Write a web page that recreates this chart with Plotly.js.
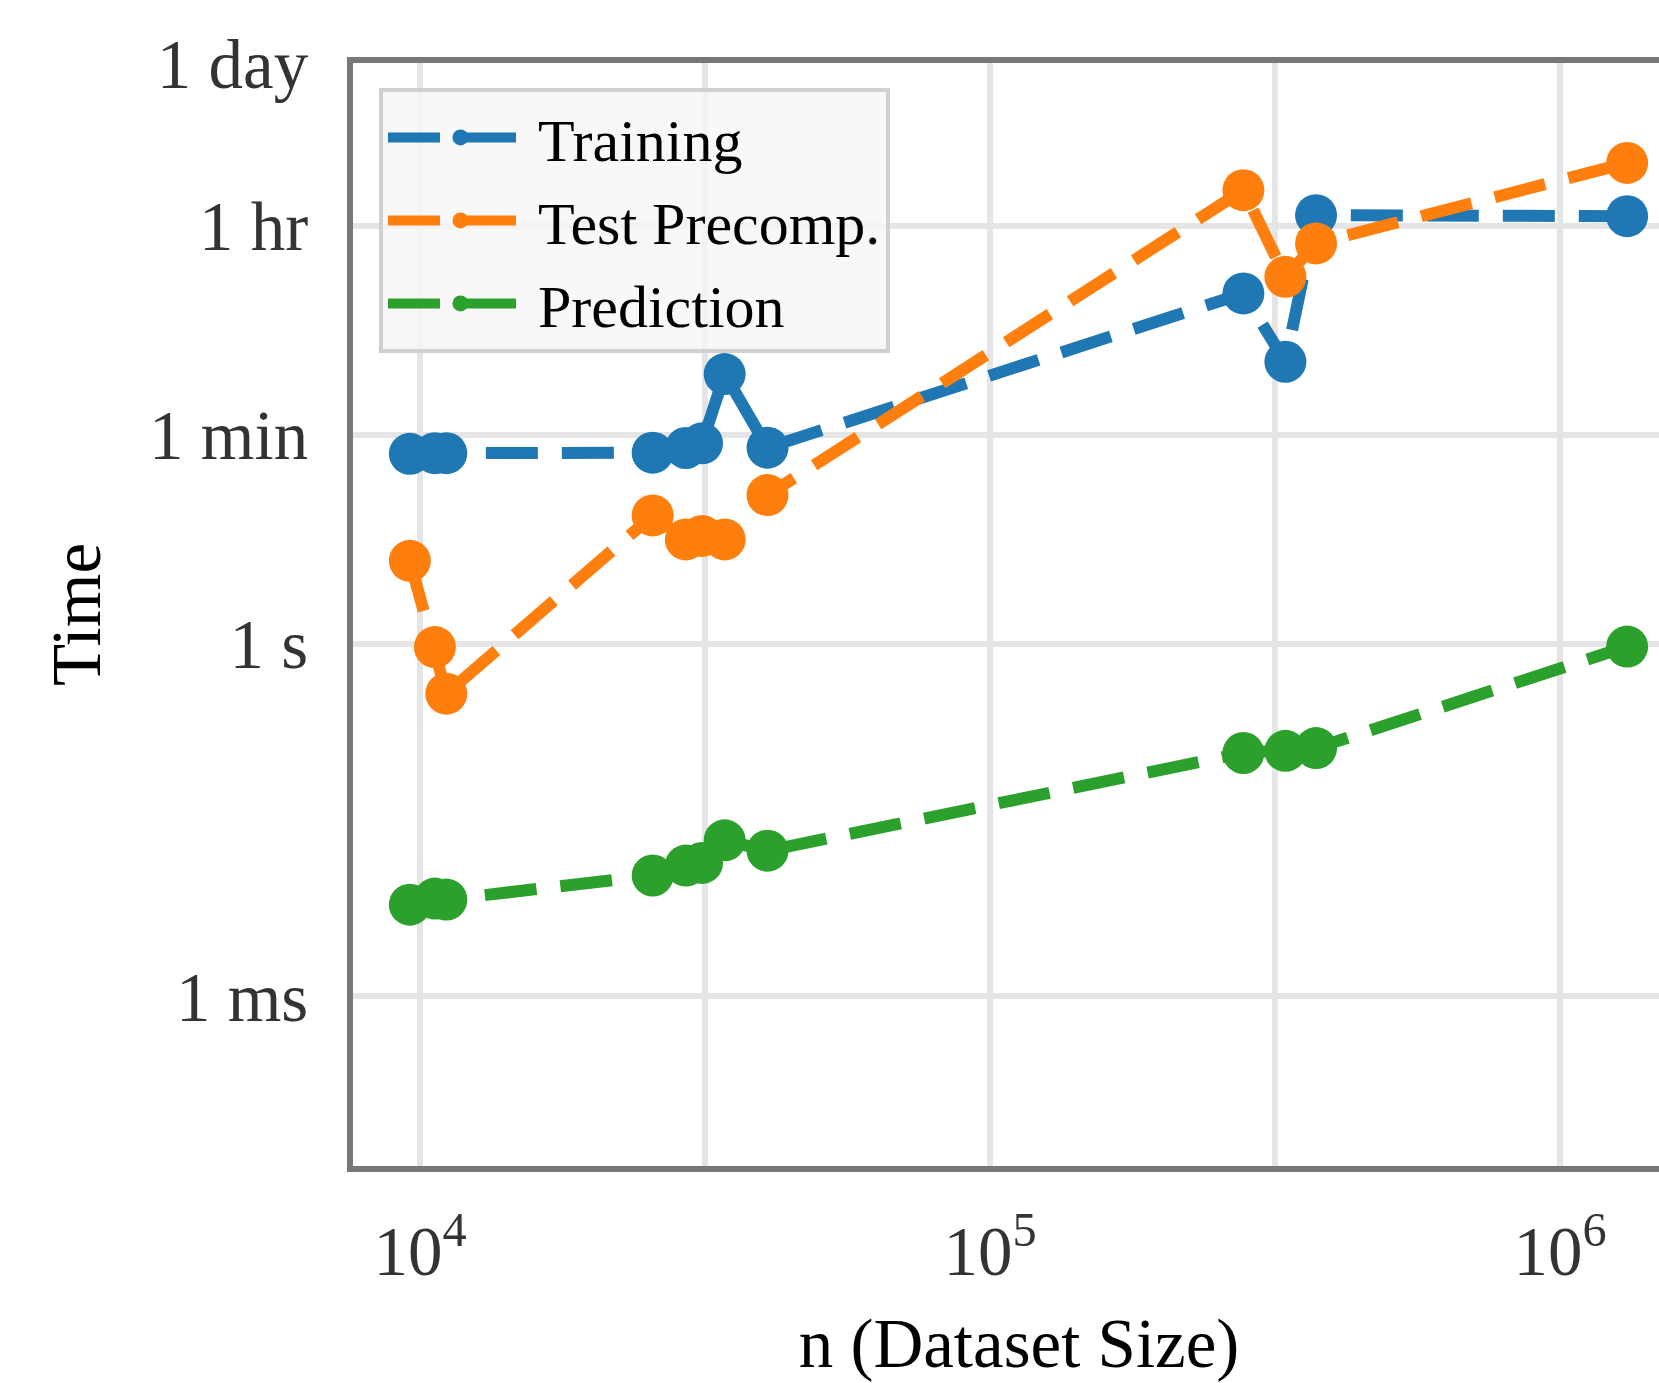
<!DOCTYPE html>
<html>
<head>
<meta charset="utf-8">
<script src="https://cdn.plot.ly/plotly-3.0.1.min.js"></script>
<style>
html, body { margin: 0; padding: 0; overflow: hidden; background: #ffffff; }
#chart { width: 1720px; height: 1400px; }
</style>
</head>
<body>
<div id="chart"></div>
<script>
// ---- data ----
const datasetSize = [9600, 10623, 11122, 25600, 29267, 31249, 34240, 40709, 278319, 329820, 373280, 1311539];
// times in seconds
const trainingTime = [41.5, 42, 42, 42.4, 46.5, 51, 198, 46.8, 961, 252, 4455, 4367];
const testPrecompTime = [5.1, 0.94, 0.377, 12.4, 7.75, 8.3, 7.75, 18.5, 7267, 1331, 2560, 12400];
const predictionTime = [0.00604, 0.0068, 0.00667, 0.0107, 0.0130, 0.0137, 0.0213, 0.0174, 0.118, 0.123, 0.130, 0.95];

const seriesNames = ['Training', 'Test Precomp.', 'Prediction'];
const seriesColors = ['#1f77b4', '#ff7f0e', '#2ca02c'];

const yTickValues = [0.001, 1, 60, 3600, 86400];
const yTickLabels = ['1 ms', '1 s', '1 min', '1 hr', '1 day'];
const xTickValues = [10000, 100000, 1000000];
const xTickLabels = ['10<sup>4</sup>', '10<sup>5</sup>', '10<sup>6</sup>'];
const xHalfDecadeGrid = [31622.7766, 316227.766];

const FONT = '"Liberation Serif", "DejaVu Serif", "Times New Roman", serif';

const seriesValues = [trainingTime, testPrecompTime, predictionTime];

const traces = seriesValues.map(function (vals, i) {
  return {
    type: 'scatter',
    mode: 'lines+markers',
    name: seriesNames[i],
    legendgroup: 'g' + i,
    x: datasetSize,
    y: vals,
    line: { color: seriesColors[i], width: 12, dash: '52px,24px' },
    marker: { color: seriesColors[i], size: 42, symbol: 'circle', line: { width: 0 } },
    cliponaxis: false
  };
});

const layout = {
  width: 1720,
  height: 1400,
  margin: { l: 353, r: 35, t: 63, b: 234, pad: 0 },
  paper_bgcolor: '#ffffff',
  plot_bgcolor: '#ffffff',
  font: { family: FONT, size: 69, color: '#333333' },
  showlegend: true,
  legend: {
    x: 0.0195, y: 0.9774, xanchor: 'left', yanchor: 'top',
    bgcolor: 'rgba(246,246,246,0.8)',
    bordercolor: '#d0d0d0',
    borderwidth: 4,
    font: { family: FONT, size: 60, color: '#000000' },
    itemwidth: 145,
    tracegroupgap: 2
  },
  xaxis: {
    type: 'log',
    range: [3.8825, 6.2193],
    tickmode: 'array',
    tickvals: xTickValues,
    ticktext: xTickLabels,
    showgrid: true,
    gridcolor: '#e5e5e5',
    gridwidth: 6,
    minor: { tickmode: 'array', tickvals: xHalfDecadeGrid, showgrid: true, gridcolor: '#e5e5e5', gridwidth: 6, ticks: '' },
    showline: true,
    linecolor: '#777777',
    linewidth: 6,
    mirror: true,
    ticks: '',
    zeroline: false,
    automargin: false,
    tickfont: { family: FONT, size: 69, color: '#333333' },
    ticklabelstandoff: 20,
    title: { text: 'n (Dataset Size)', font: { family: FONT, size: 69, color: '#000000' }, standoff: 32 }
  },
  yaxis: {
    type: 'log',
    range: [-4.443, 4.944],
    tickmode: 'array',
    tickvals: yTickValues,
    ticktext: yTickLabels,
    showgrid: true,
    gridcolor: '#e5e5e5',
    gridwidth: 6,
    showline: true,
    linecolor: '#777777',
    linewidth: 6,
    mirror: true,
    ticks: '',
    zeroline: false,
    automargin: false,
    tickfont: { family: FONT, size: 69, color: '#333333' },
    ticklabelstandoff: 25,
    title: { text: 'Time', font: { family: FONT, size: 69, color: '#000000' }, standoff: 28 }
  }
};

Plotly.newPlot('chart', traces, layout, { displayModeBar: false, staticPlot: true });
</script>
</body>
</html>
